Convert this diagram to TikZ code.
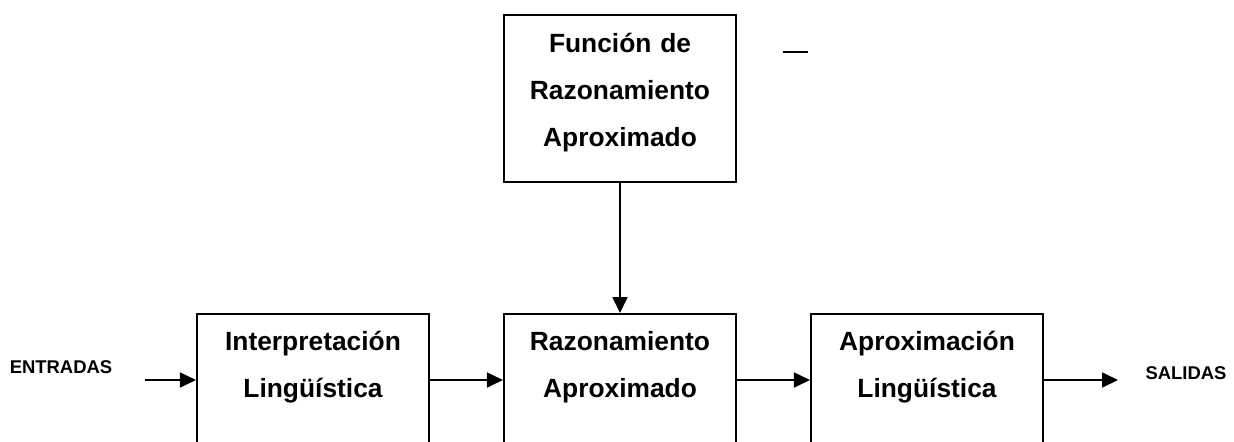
\documentclass[tikz,border=0pt]{standalone}
\usepackage{fontspec}
\setmainfont{Liberation Sans}
\usetikzlibrary{arrows.meta}

\begin{document}
\begin{tikzpicture}[x=0.02cm,y=0.02cm,
    bloque/.style={draw,line width=1.2pt,minimum width=4.64cm,text width=4.6cm,
      align=center,inner sep=0pt,font=\fontsize{15}{27}\selectfont\bfseries},
    etiqueta/.style={font=\fontsize{10.5}{12}\selectfont\bfseries},
    flecha/.style={-{Triangle[length=0.32cm,width=0.3cm]},line width=1pt}]
    \clip (0,0) rectangle (1234,-441);
    % Bloques
    \node[bloque,anchor=north,text height=0.74cm,text depth=2.6cm] (funcion) at (620,-14) {Funci\'on de\\Razonamiento\\Aproximado};
    \node[bloque,anchor=north,text height=0.72cm,text depth=2.2cm] (interp) at (313,-313) {Interpretaci\'on\\Ling\"u\'istica};
    \node[bloque,anchor=north,text height=0.72cm,text depth=2.2cm] (razap) at (620,-313) {Razonamiento\\Aproximado};
    \node[bloque,anchor=north,text height=0.72cm,text depth=2.2cm] (aprox) at (927,-313) {Aproximaci\'on\\Ling\"u\'istica};
    % Entradas y salidas
    \node[etiqueta] (entradas) at (61,-367) {ENTRADAS};
    \node[etiqueta] (salidas) at (1186,-373) {SALIDAS};
    \coordinate (inicio) at (145,-380);
    \coordinate (fin) at (1118,-380);
    % Flechas
    \draw[flecha] (inicio) -- (inicio -| interp.west);
    \draw[flecha] (interp.east |- inicio) -- (razap.west |- inicio);
    \draw[flecha] (razap.east |- inicio) -- (aprox.west |- inicio);
    \draw[flecha] (aprox.east |- inicio) -- (fin);
    \draw[flecha] (funcion.south) -- (razap.north);
    % Trazo suelto
    \draw[line width=1pt] (783,-52) -- (808,-52);
\end{tikzpicture}
\end{document}
